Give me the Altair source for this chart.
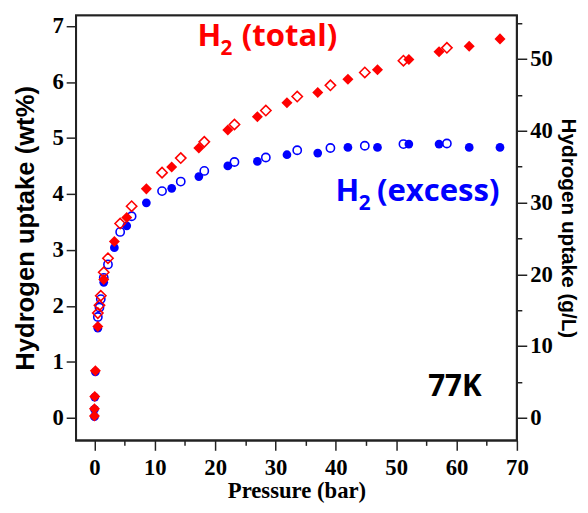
import altair as alt
import pandas as pd

# ---------------- data ----------------
# adsorption branch (filled symbols)
ads_pressure = [0.0, 0.0, 0.05, 0.15, 0.56, 1.54, 3.3, 5.35, 8.6, 12.8, 17.3, 22.1,
                27.0, 31.9, 37.0, 42.0, 46.9, 52.1, 57.1, 62.1, 67.2]
total_ads = [0.03, 0.16, 0.38, 0.84, 1.63, 2.47, 3.15, 3.58, 4.09, 4.48, 4.82, 5.14,
             5.38, 5.63, 5.81, 6.05, 6.22, 6.40, 6.54, 6.64, 6.77]
excess_ads = [0.02, 0.15, 0.37, 0.82, 1.60, 2.42, 3.04, 3.43, 3.84, 4.10, 4.31, 4.50,
              4.58, 4.70, 4.73, 4.83, 4.83, 4.89, 4.89, 4.83, 4.83]

# desorption branch (open symbols)
des_pressure = [0.56, 0.83, 1.05, 1.54, 2.24, 4.26, 6.16, 11.2, 14.3, 18.2, 23.2,
                28.4, 33.6, 39.1, 44.8, 51.2, 58.4]
total_des = [1.87, 2.01, 2.18, 2.60, 2.85, 3.47, 3.78, 4.38, 4.64, 4.93, 5.24,
             5.49, 5.74, 5.94, 6.17, 6.38, 6.61]
excess_des = [1.80, 1.97, 2.12, 2.50, 2.74, 3.32, 3.60, 4.05, 4.22, 4.41, 4.57,
              4.65, 4.78, 4.82, 4.86, 4.89, 4.90]

x_ticks = list(range(0, 71, 5))
left_ticks = [i * 0.5 for i in range(0, 15)]
right_ticks = list(range(0, 56, 5))

X_DOMAIN = [-3.05, 70]
Y_DOMAIN = [-0.405, 7.19]
GL_PER_WT = 7.8  # volumetric / gravimetric conversion of the right axis
Y2_DOMAIN = [Y_DOMAIN[0] * GL_PER_WT, Y_DOMAIN[1] * GL_PER_WT]

PLOT_W, PLOT_H = 447, 431

# annotation anchors (pressure, wt%)
total_label = pd.DataFrame({"p": [17.06], "w": [6.634]})
excess_label = pd.DataFrame({"p": [39.95], "w": [3.878]})
temp_label = pd.DataFrame({"p": [55.3], "w": [0.39]})

ads = pd.DataFrame({"p": ads_pressure, "total": total_ads, "excess": excess_ads})
des = pd.DataFrame({"p": des_pressure, "total": total_des, "excess": excess_des})
right_df = pd.DataFrame({"gl": [0, 50]})
# centre of the plot area, used to place the frame symbol
frame_df = pd.DataFrame({"p": [sum(X_DOMAIN) / 2], "w": [sum(Y_DOMAIN) / 2]})
ratio = PLOT_H / PLOT_W
FRAME_PATH = f"M-1,-{ratio:.4f}L1,-{ratio:.4f}L1,{ratio:.4f}L-1,{ratio:.4f}Z"

RED = "#ff0000"
BLUE = "#0000ff"
INK = "#222222"
NARROW = "Liberation Sans Narrow"

common_axis = dict(
    tickWidth=1.5, tickColor=INK, grid=False, domain=False,
    labelFont=NARROW, labelFontWeight="bold", labelFontSize=23, labelColor="black",
    labelFlush=False, labelOverlap=False, titleColor="black", titleFontWeight="bold",
)

x_axis = alt.Axis(
    title="Pressure (bar)", values=x_ticks, format="d",
    labelExpr="datum.value % 10 === 0 ? datum.label : ''",
    tickSize={"condition": {"test": "datum.value % 10 !== 0", "value": 5}, "value": 10},
    labelPadding=7, titleFont=NARROW, titleFontSize=23, titlePadding=0,
    **common_axis,
)

y_axis = alt.Axis(
    title="Hydrogen uptake (wt%)", values=left_ticks, format="d",
    labelExpr="datum.value % 1 === 0 ? datum.label : ''",
    tickSize={"condition": {"test": "datum.value % 1 !== 0", "value": 5}, "value": 10},
    labelPadding=3, titleFont="Liberation Sans", titleFontSize=26, titlePadding=14,
    **common_axis,
)

y2_axis = alt.Axis(
    title="Hydrogen uptake (g/L)", orient="right", values=right_ticks, format="d",
    labelExpr="datum.value % 10 === 0 ? datum.label : ''",
    tickSize={"condition": {"test": "datum.value % 10 !== 0", "value": 5}, "value": 10},
    labelPadding=3, titleFont="Liberation Sans", titleFontSize=21, titlePadding=5,
    **common_axis,
)

xs = alt.Scale(domain=X_DOMAIN, nice=False, zero=False)
ys = alt.Scale(domain=Y_DOMAIN, nice=False, zero=False)


def pts(df, field, **mark):
    return alt.Chart(df).mark_point(opacity=1, **mark).encode(
        x=alt.X("p:Q", scale=xs, axis=x_axis),
        y=alt.Y(f"{field}:Q", scale=ys, axis=y_axis),
    )


def txt(df, text, color, size, dx=0, dy=0):
    return alt.Chart(df).mark_text(
        text=text, color=color, fontSize=size, font="Open Sans", fontWeight="bold",
        align="left", baseline="alphabetic", dx=dx, dy=dy,
    ).encode(
        x=alt.X("p:Q", scale=xs, axis=x_axis),
        y=alt.Y("w:Q", scale=ys, axis=y_axis),
    )


# frame drawn as one large open rectangular symbol centred in the plot
frame = pts(frame_df, "w", shape=FRAME_PATH, filled=False, color=INK,
            strokeWidth=2, size=PLOT_W * PLOT_W)

inner = alt.layer(
    frame,
    pts(ads, "excess", shape="circle", filled=True, color=BLUE, size=78),
    pts(des, "excess", shape="circle", filled=False, color=BLUE, size=70, strokeWidth=1.6),
    pts(ads, "total", shape="diamond", filled=True, color=RED, size=125),
    pts(des, "total", shape="diamond", filled=False, color=RED, size=110, strokeWidth=1.6),
    txt(total_label, "H", RED, 31.5),
    txt(total_label, "2", RED, 21, dx=23.5, dy=9),
    txt(total_label, "(total)", RED, 31.5, dx=45),
    txt(excess_label, "H", BLUE, 31.5),
    txt(excess_label, "2", BLUE, 21, dx=23.5, dy=9),
    txt(excess_label, "(excess)", BLUE, 31.5, dx=42),
    txt(temp_label, "77K", "black", 30),
)

right = alt.Chart(right_df).mark_point(opacity=0).encode(
    y=alt.Y("gl:Q", scale=alt.Scale(domain=Y2_DOMAIN, nice=False, zero=False), axis=y2_axis),
)

chart = alt.layer(inner, right).resolve_scale(y="independent").properties(
    width=PLOT_W, height=PLOT_H,
    padding={"left": 69, "top": 4, "right": 64, "bottom": 62},
    autosize=alt.AutoSizeParams(type="none"),
).configure_view(stroke="#222222", strokeWidth=2)

chart.save("out.html", embed_options={"renderer": "svg", "actions": False})
